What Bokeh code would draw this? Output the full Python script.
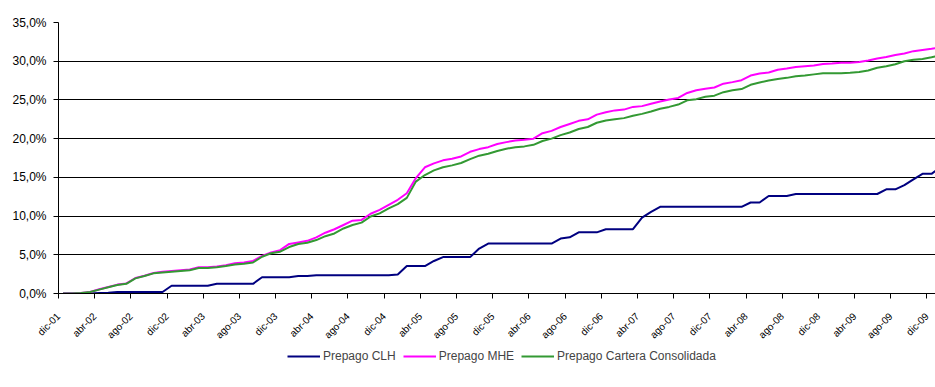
from bokeh.plotting import figure
from bokeh.layouts import column
from bokeh.models import FixedTicker, Legend, LegendItem, Range1d
from bokeh.embed import file_html
from bokeh.resources import INLINE

# Monthly series, dic-01 (index 0) to ene-10 (index 97), values in %
clh = [0, 0, 0, 0, 0.05, 0.1, 0.2, 0.2, 0.2, 0.2, 0.2, 0.2,
       1.0, 1.0, 1.0, 1.0, 1.0, 1.25, 1.25, 1.25, 1.25, 1.25,
       2.1, 2.1, 2.1, 2.1, 2.25, 2.25, 2.35, 2.35, 2.35, 2.35, 2.35, 2.35, 2.35, 2.35, 2.35,
       2.45, 3.55, 3.55, 3.55, 4.2, 4.7, 4.7, 4.7, 4.7, 5.8,
       6.45, 6.45, 6.45, 6.45, 6.45, 6.45, 6.45, 6.45,
       7.1, 7.25, 7.9, 7.9, 7.9, 8.3, 8.3, 8.3, 8.3,
       9.8, 10.55, 11.2, 11.2, 11.2, 11.2, 11.2, 11.2, 11.2, 11.2, 11.2, 11.2,
       11.75, 11.75, 12.6, 12.6, 12.6,
       12.85, 12.85, 12.85, 12.85, 12.85, 12.85, 12.85, 12.85, 12.85, 12.85,
       13.45, 13.45, 14.0, 14.75, 15.45, 15.45, 16.3]

mhe = [0, 0, 0.05, 0.2, 0.55, 0.85, 1.15, 1.3, 2.0, 2.3, 2.65, 2.8,
       2.9, 3.0, 3.1, 3.4, 3.4, 3.5, 3.65, 3.9, 4.0, 4.2,
       4.85, 5.3, 5.6, 6.4, 6.6, 6.8, 7.25, 7.85, 8.3, 8.85, 9.4, 9.5,
       10.3, 10.8, 11.45, 12.1, 12.95, 14.9, 16.3, 16.8, 17.2, 17.4,
       17.7, 18.3, 18.65, 18.9, 19.3, 19.55, 19.75, 19.85, 20.0, 20.7,
       21.0, 21.5, 21.9, 22.3, 22.5, 23.1, 23.4, 23.65, 23.75, 24.1,
       24.2, 24.5, 24.8, 25.05, 25.25, 25.9, 26.25, 26.45, 26.6, 27.1,
       27.3, 27.55, 28.15, 28.4, 28.55, 28.9, 29.05, 29.25, 29.35, 29.45,
       29.65, 29.7, 29.8, 29.8, 29.9, 30.1, 30.35, 30.55, 30.8, 31.0,
       31.3, 31.45, 31.6, 31.8]

consolidada = [0, 0, 0.05, 0.2, 0.5, 0.8, 1.1, 1.25, 1.95, 2.25, 2.6, 2.7,
               2.8, 2.9, 3.0, 3.3, 3.3, 3.4, 3.55, 3.75, 3.85, 4.0,
               4.75, 5.2, 5.4, 6.0, 6.4, 6.55, 6.9, 7.4, 7.75, 8.4, 8.85, 9.15,
               9.95, 10.35, 11.0, 11.55, 12.35, 14.45, 15.3, 15.9, 16.3, 16.55,
               16.85, 17.35, 17.8, 18.05, 18.4, 18.7, 18.9, 19.0, 19.2, 19.7,
               20.0, 20.45, 20.8, 21.25, 21.5, 22.05, 22.35, 22.5, 22.65, 22.95,
               23.2, 23.5, 23.85, 24.1, 24.4, 24.95, 25.1, 25.4, 25.55, 26.0,
               26.25, 26.4, 26.95, 27.25, 27.5, 27.7, 27.85, 28.05, 28.15, 28.3,
               28.45, 28.45, 28.45, 28.5, 28.6, 28.8, 29.15, 29.35, 29.6, 30.0,
               30.2, 30.3, 30.5, 30.75]

tick_labels = ["dic-01", "abr-02", "ago-02", "dic-02", "abr-03", "ago-03", "dic-03",
               "abr-04", "ago-04", "dic-04", "abr-05", "ago-05", "dic-05", "abr-06",
               "ago-06", "dic-06", "abr-07", "ago-07", "dic-07", "abr-08", "ago-08",
               "dic-08", "abr-09", "ago-09", "dic-09"]
y_ticks = [0, 5, 10, 15, 20, 25, 30, 35]
series_names = ["Prepago CLH", "Prepago MHE", "Prepago Cartera Consolidada"]
series_colors = ["#000080", "#FF00FF", "#339933"]

FONT = "Liberation Sans"
W = 935
H_MAIN = 347
H_LEG = 387 - H_MAIN

p = figure(width=W, height=H_MAIN, output_backend="svg", toolbar_location=None,
           x_range=Range1d(-0.5, 96.44), y_range=Range1d(0, 35),
           min_border_left=58, min_border_right=0, min_border_top=22,
           min_border_bottom=H_MAIN - 293)
p.outline_line_color = None
p.background_fill_color = "white"
p.border_fill_color = "white"

xs = list(range(len(mhe)))
for ys, c in zip([clh, mhe, consolidada], series_colors):
    p.line(xs[:len(ys)], ys, line_color=c, line_width=2)

# x axis: tick marks between categories, every 4 months
tick_pos = [4 * k - 0.5 for k in range(len(tick_labels))]
p.xaxis.ticker = FixedTicker(ticks=tick_pos)
p.xaxis.major_label_overrides = {t: lab for t, lab in zip(tick_pos, tick_labels)}
p.xaxis.major_label_orientation = 0.785398
p.xaxis.major_label_text_font = FONT
p.xaxis.major_label_text_font_size = "10px"
p.xaxis.major_label_text_color = "#000000"
p.xaxis.major_label_standoff = 16
p.xaxis.major_tick_out = 5
p.xaxis.major_tick_in = 0
p.xaxis.minor_tick_line_color = None
p.xaxis.axis_line_color = "black"
p.xaxis.major_tick_line_color = "black"

p.yaxis.ticker = FixedTicker(ticks=y_ticks)
p.yaxis.major_label_overrides = {t: f"{t:.1f}%".replace(".", ",") for t in y_ticks}
p.yaxis.major_label_text_font = FONT
p.yaxis.major_label_text_font_size = "12px"
p.yaxis.major_label_text_color = "#000000"
p.yaxis.major_label_standoff = 7
p.yaxis.major_tick_out = 5
p.yaxis.major_tick_in = 0
p.yaxis.minor_tick_line_color = None
p.yaxis.axis_line_color = "black"
p.yaxis.major_tick_line_color = "black"

p.xgrid.grid_line_color = None
p.ygrid.grid_line_color = "black"
p.ygrid.grid_line_width = 1

# Legend strip below the chart
lg = figure(width=W, height=H_LEG, output_backend="svg", toolbar_location=None,
            x_range=Range1d(0, 1), y_range=Range1d(0, 1),
            min_border_left=0, min_border_right=0, min_border_top=0, min_border_bottom=0)
lg.axis.visible = False
lg.grid.grid_line_color = None
lg.outline_line_color = None
# proxy renderers placed outside the visible range, only used for the legend glyphs
leg_renderers = [lg.line([5, 6], [5, 6], line_color=c, line_width=2) for c in series_colors]
legend = Legend(items=[LegendItem(label=n, renderers=[r]) for n, r in zip(series_names, leg_renderers)],
                orientation="horizontal", location=(229, H_LEG - 10 - 6),
                label_text_font=FONT, label_text_font_size="12px",
                glyph_width=33, glyph_height=12, label_height=12, label_standoff=3, spacing=7,
                padding=0, margin=0, border_line_color=None,
                background_fill_alpha=0)
lg.add_layout(legend)

open("out.html", "w").write(file_html(column(p, lg, spacing=0), INLINE))
